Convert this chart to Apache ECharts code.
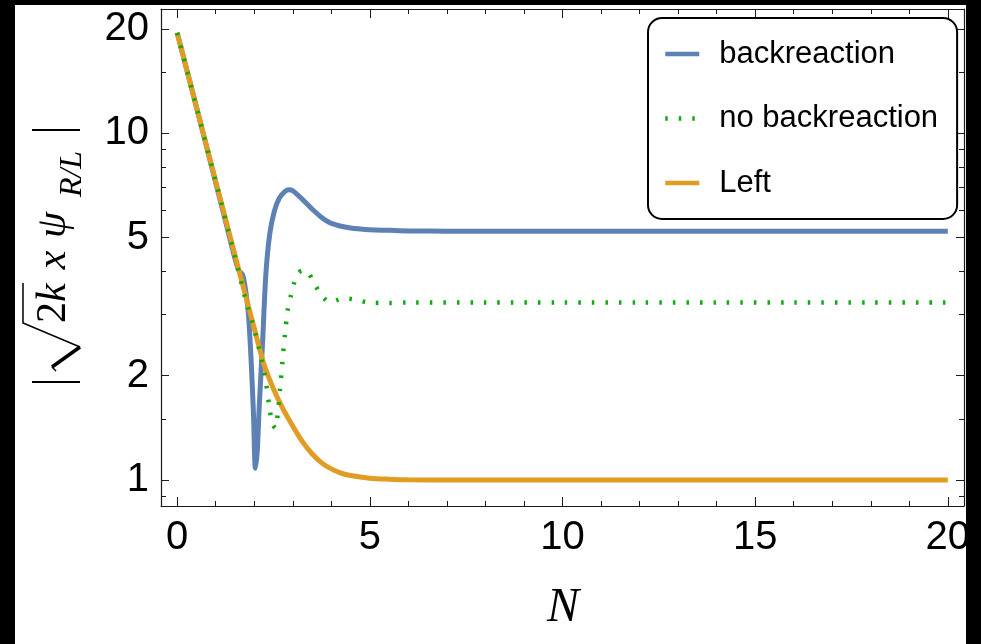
<!DOCTYPE html>
<html>
<head>
<meta charset="utf-8">
<script src="https://cdn.jsdelivr.net/npm/echarts@6/dist/echarts.min.js"></script>
<style>
html, body { margin: 0; padding: 0; background: #000; width: 981px; height: 644px; overflow: hidden; }
#chart { position: absolute; left: 15px; top: 5px; width: 951px; height: 639px; background: #fff; }
</style>
</head>
<body>
<div id="chart"></div>
<script>
// Tick positions
const xMajor = [0, 5, 10, 15, 20];
const xMinor = [1, 2, 3, 4, 6, 7, 8, 9, 11, 12, 13, 14, 16, 17, 18, 19];
const yMajor = [1, 2, 5, 10, 20];
const yMinor = [0.9, 1.5, 3, 4, 6, 7, 8, 9, 15];

// backreaction
const backN = [0, 0.5, 1, 1.25, 1.5, 1.6, 1.7, 1.78, 1.85, 1.92, 1.98, 2.03, 2.08, 2.13, 2.22, 2.3, 2.4, 2.52, 2.65, 2.8, 2.9, 3.0, 3.25, 3.5, 3.75, 4.0, 4.5, 5, 5.5, 6, 7, 8, 10, 12, 14, 16, 18, 20];
const backV = [19.5, 11.9, 7.2, 5.6, 4.35, 4.02, 3.9, 3.5, 3.0, 2.2, 1.55, 1.08, 1.22, 1.63, 2.54, 3.9, 5.1, 5.95, 6.5, 6.8, 6.87, 6.83, 6.45, 6.05, 5.72, 5.5, 5.33, 5.27, 5.25, 5.23, 5.22, 5.22, 5.22, 5.22, 5.22, 5.22, 5.22, 5.22];

// no backreaction
const noBackN = [0, 0.5, 1, 1.5, 1.75, 2.0, 2.2, 2.3, 2.4, 2.47, 2.55, 2.61, 2.67, 2.73, 2.8, 2.87, 2.95, 3.02, 3.12, 3.25, 3.38, 3.56, 3.73, 3.9, 4.0, 4.15, 4.3, 4.6, 4.95, 5.5, 6, 8, 10, 12, 14, 16, 18, 20];
const noBackV = [19.5, 11.9, 7.25, 4.4, 3.4, 2.72, 2.2, 1.92, 1.6, 1.45, 1.41, 1.55, 1.84, 2.19, 2.65, 3.1, 3.4, 3.65, 3.93, 4.02, 3.99, 3.69, 3.42, 3.28, 3.26, 3.3, 3.34, 3.32, 3.25, 3.24, 3.25, 3.25, 3.25, 3.25, 3.25, 3.25, 3.25, 3.25];

// Left
const leftN = [0, 0.5, 1, 1.5, 1.75, 2, 2.25, 2.5, 2.75, 3, 3.25, 3.5, 3.75, 4, 4.25, 4.5, 5, 5.5, 6, 7, 8, 10, 12, 14, 16, 18, 20];
const leftV = [19.5, 11.9, 7.28, 4.45, 3.48, 2.74, 2.16, 1.83, 1.6, 1.43, 1.29, 1.19, 1.12, 1.076, 1.047, 1.03, 1.012, 1.005, 1.001, 1.0, 1.0, 1.0, 1.0, 1.0, 1.0, 1.0, 1.0];

const names = ['backreaction', 'no backreaction', 'Left'];
const colors = { back: '#5E81B5', noBack: '#11AA11', left: '#E19C24' };

const pairs = (xs, ys) => xs.map((x, i) => [x, ys[i]]);

const X_MIN = -0.42, X_MAX = 20.42;
const Y_MIN = 0.841, Y_MAX = 22.84;
const frameColor = '#1a1a1a';
const tickFont = { fontFamily: 'Liberation Sans', fontSize: 40, color: '#000' };

function xAx(pos, values, len, withLine, withLabel) {
  return {
    type: 'value', position: pos, min: X_MIN, max: X_MAX,
    axisLine: { show: withLine, onZero: false, lineStyle: { color: frameColor, width: 1.2 } },
    axisTick: { show: true, inside: true, length: len, customValues: values, lineStyle: { color: frameColor, width: 1 } },
    axisLabel: withLabel ? Object.assign({ show: true, customValues: values, margin: 12 }, tickFont) : { show: false },
    splitLine: { show: false }, minorTick: { show: false }
  };
}
function yAx(pos, values, len, withLine, withLabel) {
  return {
    type: 'log', logBase: 10, position: pos, min: Y_MIN, max: Y_MAX,
    axisLine: { show: withLine, onZero: false, lineStyle: { color: frameColor, width: 1.2 } },
    axisTick: { show: true, inside: true, length: len, customValues: values, lineStyle: { color: frameColor, width: 1 } },
    axisLabel: withLabel ? Object.assign({ show: true, customValues: values, margin: 12, formatter: v => String(Math.round(v)) }, tickFont) : { show: false },
    splitLine: { show: false }, minorTick: { show: false }
  };
}

const mathFont = 'italic 42px "Liberation Serif"';
const chart = echarts.init(document.getElementById('chart'), null, { renderer: 'canvas' });
chart.setOption({
  animation: false,
  backgroundColor: '#fff',
  grid: { left: 146, top: 4, right: 2, bottom: 138, containLabel: false, outerBoundsMode: 'none' },
  xAxis: [
    xAx('bottom', xMajor, 9, true, true),
    xAx('bottom', xMinor, 5, false, false),
    xAx('top', xMajor, 9, true, false),
    xAx('top', xMinor, 5, false, false)
  ],
  yAxis: [
    yAx('left', yMajor, 8, true, true),
    yAx('left', yMinor, 5, false, false),
    yAx('right', yMajor, 8, true, false),
    yAx('right', yMinor, 5, false, false)
  ],
  legend: {
    data: [
      { name: names[0], lineStyle: { width: 4.5 } },
      { name: names[1], lineStyle: { width: 4.5 } },
      { name: names[2], lineStyle: { width: 4.5 } }
    ],
    orient: 'vertical',
    left: 633, top: 13,
    padding: [18, 19, 18, 15],
    itemGap: 28.5,
    itemWidth: 34, itemHeight: 14,
    itemStyle: { opacity: 0 },
    backgroundColor: '#fff',
    borderColor: '#000', borderWidth: 2, borderRadius: 14,
    textStyle: { fontFamily: 'Liberation Sans', fontSize: 31, color: '#000', lineHeight: 36, padding: [0, 0, 0, 15] }
  },
  series: [
    {
      name: names[0], type: 'line', data: pairs(backN, backV), showSymbol: false, symbol: 'none',
      smooth: 0.3, lineStyle: { color: colors.back, width: 5 }, itemStyle: { color: colors.back }, z: 2
    },
    {
      name: names[2], type: 'line', data: pairs(leftN, leftV), showSymbol: false, symbol: 'none',
      smooth: 0.3, lineStyle: { color: colors.left, width: 5 }, itemStyle: { color: colors.left }, z: 3
    },
    {
      name: names[1], type: 'line', data: pairs(noBackN, noBackV), showSymbol: false, symbol: 'none',
      smooth: 0.3, lineStyle: { color: colors.noBack, width: 4.5, type: [2.5, 11], cap: 'butt' }, itemStyle: { color: colors.noBack }, z: 4
    }
  ],
  graphic: [
    {
      type: 'text', x: 548, y: 603,
      style: { text: 'N', font: 'italic 48px "Liberation Serif"', fill: '#000', align: 'center', verticalAlign: 'middle' }
    },
    {
      type: 'group', x: 40, y: 252, rotation: Math.PI / 2,
      children: [
        { type: 'line', shape: { x1: -125, y1: -23, x2: -125, y2: 25 }, style: { stroke: '#000', lineWidth: 2 } },
        { type: 'line', shape: { x1: 127, y1: -23, x2: 127, y2: 25 }, style: { stroke: '#000', lineWidth: 2 } },
        { type: 'polyline', shape: { points: [[-114, 1], [-110, -3]] }, style: { stroke: '#000', lineWidth: 1.5, fill: null } },
        { type: 'polyline', shape: { points: [[-110, -3], [-90, 25]] }, style: { stroke: '#000', lineWidth: 3.5, fill: null } },
        { type: 'polyline', shape: { points: [[-90, 25], [-66, -32], [-26, -32]] }, style: { stroke: '#000', lineWidth: 1.5, fill: null } },
        { type: 'text', x: -66, y: -1, style: { text: '2', font: '42px "Liberation Serif"', fill: '#000', align: 'left', verticalAlign: 'middle' } },
        { type: 'text', x: -45, y: -1, style: { text: 'k', font: mathFont, fill: '#000', align: 'left', verticalAlign: 'middle' } },
        { type: 'text', x: -3, y: -1, style: { text: 'x', font: mathFont, fill: '#000', align: 'center', verticalAlign: 'middle' } },
        { type: 'text', x: 32, y: -1, style: { text: 'ψ', font: mathFont, fill: '#000', align: 'center', verticalAlign: 'middle' } },
        { type: 'text', x: 83, y: 18, style: { text: 'R/L', font: 'italic 32px "Liberation Serif"', fill: '#000', align: 'center', verticalAlign: 'middle' } }
      ]
    }
  ]
});
</script>
</body>
</html>
